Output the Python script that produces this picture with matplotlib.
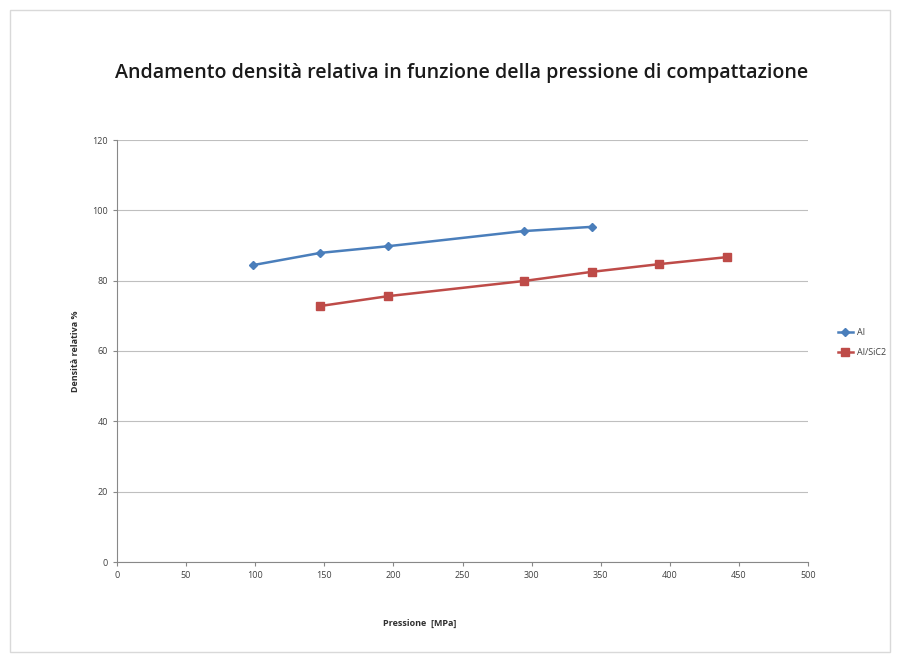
import matplotlib
matplotlib.use("Agg")
import matplotlib.pyplot as plt
from matplotlib.patches import Rectangle

x_al = [98.1, 147.2, 196.2, 294.3, 343.4]
y_al = [84.4, 87.9, 89.8, 94.1, 95.3]
x_alsic = [147.2, 196.2, 294.3, 343.4, 392.4, 441.5]
y_alsic = [72.8, 75.6, 79.9, 82.5, 84.7, 86.7]
xticks = [0, 50, 100, 150, 200, 250, 300, 350, 400, 450, 500]
yticks = [0, 20, 40, 60, 80, 100, 120]

plt.rcParams['font.family'] = ['Open Sans', 'DejaVu Sans']

fig = plt.figure(figsize=(9.01, 6.62), dpi=100)
fig.patches.append(Rectangle((10/901, 10/662), 880/901, 642/662, transform=fig.transFigure,
                             fill=False, edgecolor='#d9d9d9', linewidth=1))
ax = fig.add_axes([117/901, 1-562/662, (808-117)/901, (562-140)/662])

ax.plot(x_al, y_al, color='#4A7EBB', marker='D', markersize=4.5, linewidth=1.8, label='Al')
ax.plot(x_alsic, y_alsic, color='#BE4B48', marker='s', markersize=6, linewidth=1.8, label='Al/SiC2')

ax.set_xlim(0, 500)
ax.set_ylim(0, 120)
ax.set_xticks(xticks)
ax.set_yticks(yticks)
ax.tick_params(labelsize=6.5, colors='#404040', length=3, color='#888888')
ax.grid(axis='y', color='#bfbfbf', linewidth=0.8)
ax.set_axisbelow(True)
for s in ['top', 'right']:
    ax.spines[s].set_visible(False)
for s in ['left', 'bottom']:
    ax.spines[s].set_color('#888888')

fig.text(462/901, 1-73/662, 'Andamento densità relativa in funzione della pressione di compattazione',
         ha='center', va='center', fontsize=14.1, fontweight='semibold', color='#1a1a1a')
fig.text(420/901, 1-623/662, 'Pressione  [MPa]', ha='center', va='center', fontsize=6.5,
         fontweight='bold', color='#303030')
fig.text(76/901, 1-351/662, 'Densità relativa %', ha='center', va='center', rotation=90,
         fontsize=6.5, fontweight='bold', color='#303030')

leg = ax.legend(loc='center left', bbox_to_anchor=(1.032, 0.52), frameon=False, fontsize=6.5,
                handlelength=1.6, handletextpad=0.5, labelspacing=1.2)
for t in leg.get_texts():
    t.set_color('#404040')

fig.savefig('out.png', dpi=100)
